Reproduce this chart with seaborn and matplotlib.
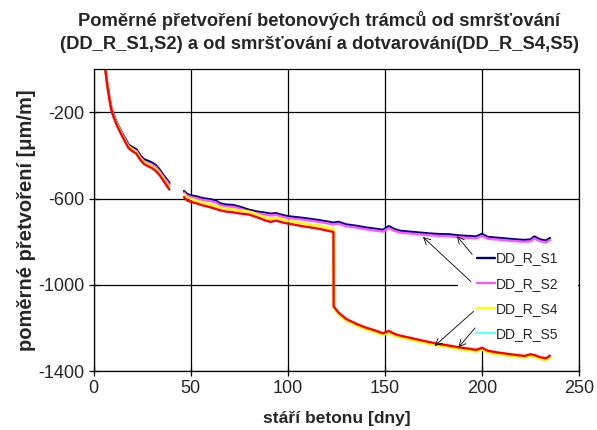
import numpy as np
import pandas as pd
import seaborn as sns
import matplotlib
matplotlib.use("Agg")
import matplotlib.pyplot as plt
from matplotlib.lines import Line2D
from matplotlib.patches import Rectangle

# ---------------- data ----------------
series_names = ["DD_R_S1", "DD_R_S2", "DD_R_S4", "DD_R_S5"]

days_seg1 = [6, 7, 8, 9, 10, 12, 14, 16, 18, 20, 22, 24, 26, 28, 30, 32, 34, 36, 38, 39]
days_seg2 = [46.5, 48, 50, 53, 56, 60, 63, 65, 68, 72, 76, 80, 84, 88, 91, 94, 97, 100,
             104, 108, 112, 116, 120, 123.5, 123.6, 126, 130, 135, 140, 145, 149, 152,
             155, 158, 163, 168, 173, 178, 183, 188, 193, 197, 200, 203, 208, 213, 218,
             222, 225, 227, 230, 233, 235]

s1_seg1 = [0, -68, -125, -175, -205, -250, -285, -318, -350, -362, -372, -400, -418,
           -425, -433, -445, -466, -492, -515, -528]
s2_seg1 = [0, -72, -130, -181, -212, -256, -291, -325, -357, -369, -380, -408, -427,
           -434, -442, -454, -475, -500, -524, -537]
s4_seg1 = [0, -73, -132, -182, -211, -256, -292, -327, -359, -372, -384, -412, -431,
           -441, -449, -463, -483, -509, -535, -548]
s5_seg1 = [0, -75, -135, -185, -215, -262, -298, -333, -366, -380, -392, -420, -440,
           -450, -458, -472, -492, -518, -545, -558]

s1_seg2 = [-565, -578, -585, -590, -598, -603, -610, -622, -628, -630, -640, -652, -660,
           -665, -670, -668, -676, -682, -686, -690, -695, -700, -706, -712, -712, -708,
           -720, -726, -734, -740, -745, -728, -742, -750, -754, -758, -762, -765, -766,
           -771, -774, -776, -764, -778, -782, -786, -790, -792, -790, -776, -790, -795,
           -783]
s2_seg2 = [-572, -586, -593, -598, -606, -611, -618, -630, -636, -638, -648, -660, -668,
           -673, -678, -676, -684, -690, -694, -698, -703, -708, -714, -720, -720, -716,
           -728, -734, -742, -748, -753, -737, -750, -758, -762, -766, -770, -773, -774,
           -779, -782, -784, -773, -786, -790, -794, -798, -800, -798, -785, -798, -803,
           -792]
s4_seg2 = [-579, -594, -601, -608, -617, -626, -634, -640, -646, -650, -656, -660, -672,
           -686, -694, -688, -696, -702, -708, -715, -720, -726, -734, -742, -1108, -1136,
           -1166, -1188, -1206, -1220, -1233, -1222, -1236, -1244, -1254, -1264, -1274,
           -1283, -1290, -1298, -1304, -1310, -1300, -1314, -1322, -1328, -1334, -1338,
           -1330, -1334, -1344, -1349, -1338]
s5_seg2 = [-593, -608, -615, -622, -631, -640, -648, -654, -660, -664, -670, -674, -686,
           -700, -708, -702, -710, -716, -722, -729, -734, -740, -748, -755, -1100, -1128,
           -1158, -1180, -1198, -1212, -1225, -1214, -1228, -1236, -1246, -1256, -1266,
           -1275, -1282, -1290, -1296, -1302, -1292, -1306, -1314, -1320, -1326, -1330,
           -1322, -1326, -1336, -1341, -1329]

x_ticks = [0, 50, 100, 150, 200, 250]
y_ticks = [-1400, -1000, -600, -200]

title = "Poměrné přetvoření betonových trámců od smršťování\n(DD_R_S1,S2) a od smršťování a dotvarování(DD_R_S4,S5)"
xlabel = "stáří betonu [dny]"
ylabel = "poměrné přetvoření [μm/m]"

# ---------------- table ----------------
seg1 = {"DD_R_S1": s1_seg1, "DD_R_S2": s2_seg1, "DD_R_S4": s4_seg1, "DD_R_S5": s5_seg1}
seg2 = {"DD_R_S1": s1_seg2, "DD_R_S2": s2_seg2, "DD_R_S4": s4_seg2, "DD_R_S5": s5_seg2}
rows = []
for name in series_names:
    for d, v in zip(days_seg1, seg1[name]):
        rows.append((name, 1, d, v))
    for d, v in zip(days_seg2, seg2[name]):
        rows.append((name, 2, d, v))
df = pd.DataFrame(rows, columns=["series", "segment", "day", "value"])

line_colors = {"DD_R_S1": "#000080", "DD_R_S2": "#FF55FF", "DD_R_S4": "#FFFF00", "DD_R_S5": "#FF0000"}
legend_colors = {"DD_R_S1": "#000080", "DD_R_S2": "#FF55FF", "DD_R_S4": "#FFFF00", "DD_R_S5": "#66FFFF"}

# ---------------- plot ----------------
sns.set_theme(style="white")
plt.rcParams["font.family"] = ["Liberation Sans", "DejaVu Sans"]
plt.rcParams["axes.unicode_minus"] = False

fig = plt.figure(figsize=(5.97, 4.30), dpi=100)
ax = fig.add_axes([93.7 / 597, 1 - 371 / 430, (579 - 93.7) / 597, (371 - 69.3) / 430])

sns.lineplot(data=df, x="day", y="value", hue="series", units="segment",
             estimator=None, palette=line_colors, hue_order=series_names,
             linewidth=1.7, legend=False, ax=ax, sort=False, zorder=3)

ax.set_xlim(0, 250)
ax.set_ylim(-1400, 0)
ax.set_xticks(x_ticks)
ax.set_yticks(y_ticks)
ax.grid(True, color="black", linewidth=0.9)
ax.set_axisbelow(True)
for sp in ax.spines.values():
    sp.set_color("black")
    sp.set_linewidth(0.9)
    sp.set_zorder(4)
ax.tick_params(axis="both", direction="inout", length=7, width=0.9, color="black",
               labelsize=13, pad=3, left=True, bottom=True)

ax.set_xlabel(xlabel, fontsize=12.5, fontweight="bold", labelpad=10)
ax.set_ylabel(ylabel, fontsize=14.5, fontweight="bold", labelpad=2)
fig.text(0.535, 1 - 11 / 430, title, ha="center", va="top", fontsize=13.2,
         fontweight="bold", linespacing=1.45)

# white legend background (drawn under curves, as in the reference)
ax.add_patch(Rectangle((187.5, -1293), 62, 518, facecolor="white", edgecolor="none", zorder=1.5))

handles = [Line2D([], [], color=legend_colors[n], lw=1.7) for n in series_names]
leg = ax.legend(handles, series_names, loc="upper left", bbox_to_anchor=(0.781, 0.41),
                frameon=False, fontsize=10, handlelength=1.3, handletextpad=0.05,
                labelspacing=0.8, borderpad=0.3, borderaxespad=0)
leg.set_zorder(5)

arrows = [((195, -859), (187.1, -774)),
          ((194.3, -985), (169.6, -778)),
          ((195.7, -1123), (175.6, -1284)),
          ((196.5, -1200), (187.9, -1290))]
for start, end in arrows:
    ax.annotate("", xy=end, xytext=start,
                arrowprops=dict(arrowstyle="->", color="black", lw=0.6,
                                shrinkA=0, shrinkB=0), zorder=6)

fig.savefig("out.png", dpi=100)
